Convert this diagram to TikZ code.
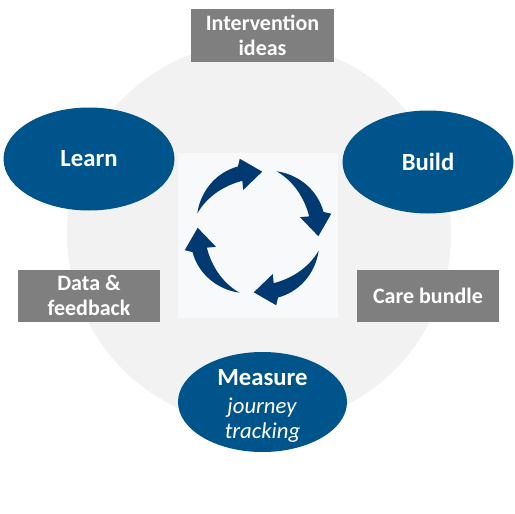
\documentclass[tikz,border=0pt]{standalone}
\usepackage{fontspec}
\setmainfont{Carlito}
\usetikzlibrary{shapes.geometric}
\definecolor{bluefill}{HTML}{00548C}
\definecolor{arrowblue}{HTML}{003A70}
\definecolor{boxgrey}{HTML}{7F7F7F}
\definecolor{ringgrey}{HTML}{F2F2F2}
\definecolor{panel}{HTML}{F7F9FB}
\begin{document}
\begin{tikzpicture}[x=1pt,y=1pt,
  phase/.style={ellipse, fill=bluefill, text=white, font=\fontsize{24.7}{28}\selectfont\bfseries, minimum width=171, minimum height=103, inner sep=0},
  tag/.style={rectangle, fill=boxgrey, text=white, font=\fontsize{22}{24.5}\selectfont\bfseries, minimum width=142, minimum height=52, align=center, inner sep=0},
  mtitle/.style={anchor=base, text=white, font=\fontsize{24.7}{28}\selectfont\bfseries, inner sep=0},
  msub/.style={anchor=base, text=white, font=\fontsize{22.7}{26}\selectfont\itshape, inner sep=0},
  cyclearrow/.style={fill=arrowblue}]
\useasboundingbox (0,0) rectangle (515,-514);
\fill[white] (0,0) rectangle (515,-514);
\node[circle, fill=ringgrey, minimum size=384, inner sep=0] (ring) at (259,-234) {};
\node[fill=panel, minimum width=160, minimum height=165, inner sep=0] (panel) at (258,-235.5) {};
\foreach \k in {0,1,2,3} {
  \fill[cyclearrow, shift={(258,-232)}, rotate=-90*\k]
    plot[domain=0:1,samples=30] ({163-56*\x}:{63.5-2.5*\x+7.5*sin(90*\x)})
    -- (104:75.5) -- (86:60.5) -- (109.5:44.5)
    -- plot[domain=1:0,samples=30] ({163-56*\x}:{63.5-2.5*\x-7.5*sin(90*\x)}) -- cycle;
}
\node[phase] (learn) at (89,-159) {Learn};
\node[phase] (build) at (428,-162) {Build};
\node[phase, minimum width=169, minimum height=100] (measure) at (262.5,-402) {};
\node[mtitle] (mname) at (262.5,-385) {Measure};
\node[msub] (mjourney) at (262,-413) {journey};
\node[msub] (mtracking) at (262.5,-438) {tracking};
\node[tag, minimum width=143, minimum height=53] (ideas) at (262.5,-35.5) {Intervention\\ideas};
\node[tag] (data) at (89,-295.5) {Data \&\\feedback};
\node[tag] (care) at (428,-295.5) {Care bundle};
\end{tikzpicture}
\end{document}
